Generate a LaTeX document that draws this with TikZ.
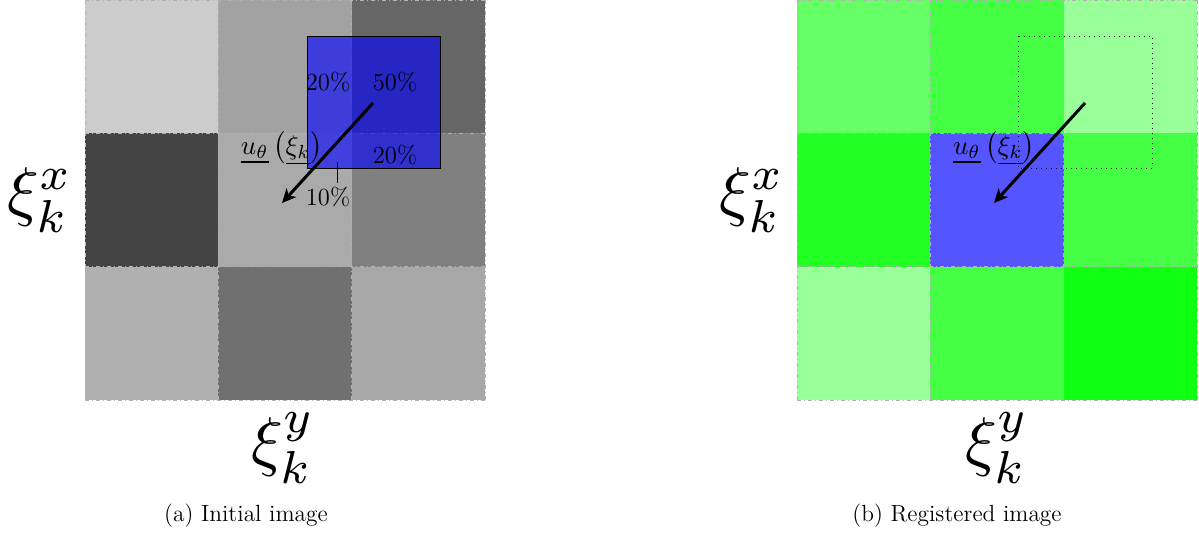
\documentclass[tikz,border=0pt]{standalone}
\usetikzlibrary{arrows.meta}
\definecolor{la}{HTML}{CCCCCC}
\definecolor{lb}{HTML}{A2A2A2}
\definecolor{lc}{HTML}{666666}
\definecolor{ld}{HTML}{444444}
\definecolor{le}{HTML}{AAAAAA}
\definecolor{lf}{HTML}{808080}
\definecolor{lg}{HTML}{B0B0B0}
\definecolor{lh}{HTML}{707070}
\definecolor{li}{HTML}{A8A8A8}
\definecolor{ra}{HTML}{66FF66}
\definecolor{rb}{HTML}{44FF44}
\definecolor{rc}{HTML}{99FF99}
\definecolor{rd}{HTML}{22FF22}
\definecolor{re}{HTML}{5555FF}
\definecolor{rf}{HTML}{44FF44}
\definecolor{rg}{HTML}{99FF99}
\definecolor{rh}{HTML}{44FF44}
\definecolor{ri}{HTML}{11FF11}
\tikzset{
  gridline/.style={gray!60, line width=0.5pt, dash pattern=on 2pt off 1.5pt on 0.5pt off 1.5pt},
  pct/.style={font=\fontsize{12.3}{14}\selectfont, inner sep=0pt},
  bigxi/.style={inner sep=0pt, scale=3.3},
  capt/.style={font=\fontsize{11.7}{14}\selectfont, inner sep=0pt, anchor=base},
  uarrow/.style={line width=1.5pt, -{Stealth[length=7pt,width=6.5pt,inset=2pt]}},
  ulabel/.style={inner sep=0pt, scale=1.35},
  overlay box/.style={draw=black, line width=0.4pt, fill=blue, fill opacity=0.62, draw opacity=1},
  target box/.style={draw=black, line width=0.5pt, dotted},
}
\newcommand{\mygrid}[2]{%
  \foreach \k in {0,1,2,3}{
    \draw[gridline] ({#1+\k*133.333},0) -- ({#1+\k*133.333},400);
    \draw[gridline] (#1,{\k*133.333}) -- ({#1+400},{\k*133.333});
  }%
}
\newcommand{\mycells}[1]{%
  \foreach \col/\row/\cc in {#1}{
    \fill[\cc] (\col,\row) rectangle ++(133.333,133.333);
  }%
}
\begin{document}
\begin{tikzpicture}[x=0.5pt,y=-0.5pt]
\useasboundingbox (0,0) rectangle (1199,536);
% left grid
\mycells{85/0/la,218.333/0/lb,351.667/0/lc,85/133.333/ld,218.333/133.333/le,351.667/133.333/lf,85/266.667/lg,218.333/266.667/lh,351.667/266.667/li}
\mygrid{85}{0}
\draw[overlay box] (307,36) rectangle (440,168);
\node[pct] (p20a) at (328,82) {20\%};
\node[pct] (p50) at (395,82) {50\%};
\node[pct] (p20b) at (395,155) {20\%};
\node[pct] (p10) at (328,197) {10\%};
\coordinate (t1) at (337,162);
\coordinate (t2) at (337,183);
\draw[line width=0.4pt] (t1) -- (t2);
\node[ulabel] (ul) at (282,148) {$\underline{u_\theta}\left(\underline{\xi_k}\right)$};
\coordinate (a1) at (373,103);
\coordinate (a2) at (282,203);
\draw[uarrow] (a1) -- (a2);
\node[bigxi] (xl) at (40,200) {$\xi_k^x$};
\node[bigxi] (yl) at (283,448) {$\xi_k^y$};
\node[capt] (capa) at (246,521) {(a) Initial image};
% right grid
\mycells{797/0/ra,930.333/0/rb,1063.667/0/rc,797/133.333/rd,930.333/133.333/re,1063.667/133.333/rf,797/266.667/rg,930.333/266.667/rh,1063.667/266.667/ri}
\mygrid{797}{0}
\draw[target box] (1018,36) rectangle (1152,168);
\node[ulabel] (ur) at (994,148) {$\underline{u_\theta}\left(\underline{\xi_k}\right)$};
\coordinate (b1) at (1085,103);
\coordinate (b2) at (994,203);
\draw[uarrow] (b1) -- (b2);
\node[bigxi] (xr) at (752,200) {$\xi_k^x$};
\node[bigxi] (yr) at (997,448) {$\xi_k^y$};
\node[capt] (capb) at (957,521) {(b) Registered image};
\end{tikzpicture}
\end{document}
